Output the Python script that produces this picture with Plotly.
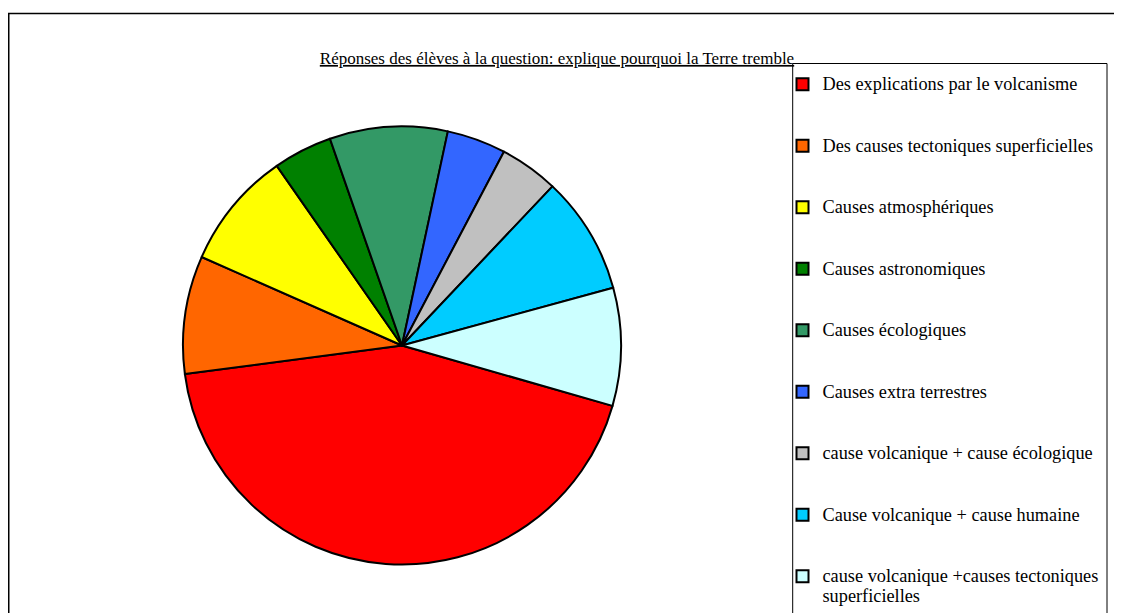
import plotly.graph_objects as go

categories = [
    "Des explications par le volcanisme",
    "Des causes tectoniques superficielles",
    "Causes atmosphériques",
    "Causes astronomiques",
    "Causes écologiques",
    "Causes extra terrestres",
    "cause volcanique + cause écologique",
    "Cause volcanique + cause humaine",
    "cause volcanique +causes tectoniques<br>superficielles",
]
counts = [10, 2, 2, 1, 2, 1, 1, 2, 2]
colors = ["#FF0000", "#FF6600", "#FFFF00", "#008000", "#339966",
          "#3366FF", "#C0C0C0", "#00CCFF", "#CCFFFF"]
title_text = "Réponses des élèves à la question: explique pourquoi la Terre tremble"

W, H = 1122, 613
OFF = 8  # page body margin offset
FONT = "Liberation Serif"


def px_x(v):
    return (v - OFF) / W


def px_y(v):
    return 1 - (v - OFF) / H


def legend_label(c, last):
    lines = c.split("<br>")
    shown = "<br>".join(f"<span style='font-size:18.3px'>{ln}</span>" for ln in lines)
    return shown if last else shown + "<br> <br> "


labels = [legend_label(c, i == len(categories) - 1) for i, c in enumerate(categories)]

cx, cy, r = 402, 345.5, 219

fig = go.Figure(go.Pie(
    labels=labels,
    values=counts,
    sort=False,
    direction="clockwise",
    rotation=106,
    marker=dict(colors=colors, line=dict(color="black", width=2)),
    textinfo="none",
    hoverinfo="skip",
    domain=dict(x=[px_x(cx - r), px_x(cx + r)], y=[px_y(cy + r), px_y(cy - r)]),
))

fig.update_layout(
    width=W, height=H,
    margin=dict(l=0, r=0, t=0, b=0, autoexpand=False),
    paper_bgcolor="white",
    plot_bgcolor="white",
    font=dict(family=FONT, color="black"),
    title=dict(text=f"<u>{title_text}</u>", font=dict(family=FONT, size=17, color="black"),
               x=px_x(557), xanchor="center", xref="container",
               y=px_y(58), yanchor="middle", yref="container"),
    showlegend=True,
    legend=dict(
        x=px_x(782.5), xanchor="left", y=px_y(68), yanchor="top",
        font=dict(family=FONT, size=15.0, color="black"),
        bgcolor="rgba(0,0,0,0)", borderwidth=0, valign="top",
        traceorder="normal",
    ),
    shapes=[
        dict(type="rect", xref="paper", yref="paper",
             x0=0.75 / W, x1=1.05, y0=-0.05, y1=px_y(13.5),
             line=dict(color="black", width=1.5), fillcolor="rgba(0,0,0,0)", layer="below"),
        dict(type="rect", xref="paper", yref="paper",
             x0=px_x(792.7), x1=px_x(1107), y0=-0.05, y1=px_y(63.5),
             line=dict(color="black", width=1), fillcolor="white", layer="below"),
    ],
)

fig.write_html("out.html")
